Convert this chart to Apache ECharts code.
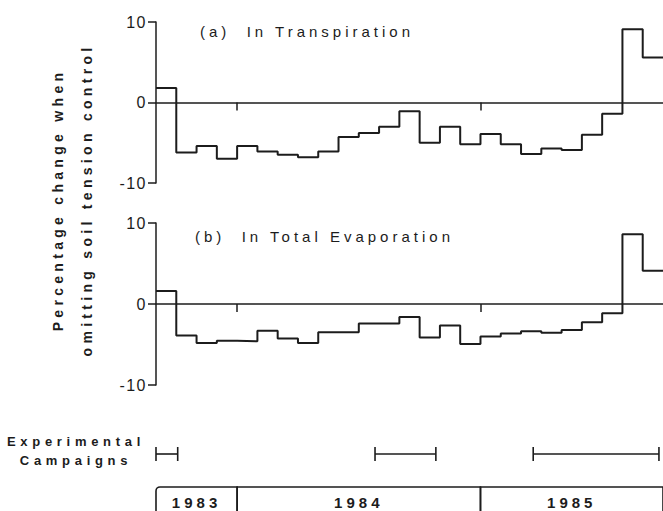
<!DOCTYPE html>
<html>
<head>
<meta charset="utf-8">
<title>Percentage change when omitting soil tension control</title>
<script src="https://cdn.jsdelivr.net/npm/echarts@6/dist/echarts.min.js"></script>
<style>
    html, body { margin: 0; padding: 0; background: #fff; }
    #chart { width: 663px; height: 511px; }
    /* the scanned figure uses wide letter spacing, svg text takes it from css */
    #chart text { white-space: pre; }
    #chart text[style*="16px"] { letter-spacing: 1.5px; }
    #chart text[style*="15px"] { letter-spacing: 4px; }
    #chart text[style*="14px"] { letter-spacing: 4.3px; }
    #chart text[style*="13px"] { letter-spacing: 4.7px; }
</style>
</head>
<body>
<div id="chart"></div>
<script>
// monthly values, Sep 1983 .. Sep 1985 (one step per month)
var transpiration = [1.8, -6.2, -5.4, -7.0, -5.4, -6.1, -6.5, -6.8, -6.1, -4.3, -3.8, -3.0,
    -1.1, -5.0, -3.0, -5.2, -3.9, -5.2, -6.4, -5.7, -5.9, -4.0, -1.4, 9.1, 5.6];
var evaporation = [1.6, -3.9, -4.8, -4.55, -4.6, -3.3, -4.25, -4.8, -3.5, -3.5, -2.4, -2.4,
    -1.6, -4.15, -2.65, -4.95, -4.0, -3.65, -3.35, -3.55, -3.2, -2.25, -1.15, 8.6, 4.1];

// experimental campaigns, in months from Sep 1983
var campaignStart = [0, 10.8, 18.6];
var campaignEnd = [1.07, 13.8, 24.8];

// calendar years along the bottom
var yearLabels = ['1983', '1984', '1985'];
var yearStart = [0, 4, 16];
var yearEnd = [4, 16, 25];
var yearTicks = [4, 16];

var panelTitles = ['(a)  In Transpiration', '(b)  In Total Evaporation'];

var ink = '#1c1c1c';
var font = 'Liberation Sans';
var monthCount = transpiration.length;

function stepData(values) {
    var pts = values.map(function (v, i) { return [i, v]; });
    pts.push([values.length, values[values.length - 1]]);
    return pts;
}

function panelY(idx) {
    return {
        type: 'value',
        gridIndex: idx,
        min: -10,
        max: 10,
        interval: 10,
        splitLine: {show: false},
        axisLine: {show: true, lineStyle: {color: ink, width: 1.5}},
        axisTick: {show: true, length: 8, lineStyle: {color: ink, width: 1.5}},
        axisLabel: {
            color: ink,
            fontSize: 16,
            fontFamily: font,
            margin: 9
        }
    };
}

function panelX(idx) {
    return {
        type: 'value',
        gridIndex: idx,
        min: 0,
        max: monthCount,
        splitLine: {show: false},
        axisLine: {show: true, onZero: true, lineStyle: {color: ink, width: 1.5}},
        axisTick: {show: true, customValues: yearTicks, length: 8, lineStyle: {color: ink, width: 1.5}},
        axisLabel: {show: false}
    };
}

function hiddenX(idx) {
    return {type: 'value', gridIndex: idx, min: 0, max: monthCount, show: false};
}

function hiddenY(idx) {
    return {type: 'value', gridIndex: idx, min: 0, max: 1, show: false};
}

function renderCampaign(params, api) {
    var a = api.coord([api.value(0), 0]);
    var b = api.coord([api.value(1), 0]);
    var cs = params.coordSys;
    var mid = cs.y + cs.height / 2;
    var st = {stroke: ink, lineWidth: 1.6};
    return {
        type: 'group',
        children: [
            {type: 'line', shape: {x1: a[0], y1: mid, x2: b[0], y2: mid}, style: st},
            {type: 'line', shape: {x1: a[0], y1: cs.y, x2: a[0], y2: cs.y + cs.height}, style: st},
            {type: 'line', shape: {x1: b[0], y1: cs.y, x2: b[0], y2: cs.y + cs.height}, style: st}
        ]
    };
}

function renderYear(params, api) {
    var a = api.coord([api.value(0), 0]);
    var b = api.coord([api.value(1), 0]);
    var cs = params.coordSys;
    return {
        type: 'group',
        children: [
            {
                type: 'rect',
                shape: {x: a[0], y: cs.y, width: b[0] - a[0], height: cs.height + 20, r: params.dataIndex === 0 ? [4, 0, 0, 0] : 0},
                style: {fill: 'none', stroke: ink, lineWidth: 1.6}
            },
            {
                type: 'text',
                style: {
                    text: yearLabels[params.dataIndex],
                    x: (a[0] + b[0]) / 2,
                    y: cs.y + 15,
                    textAlign: 'center',
                    textVerticalAlign: 'middle',
                    fill: ink,
                    fontSize: 15,
                    fontWeight: 'bold',
                    fontFamily: font
                }
            }
        ]
    };
}

var chart = echarts.init(document.getElementById('chart'), null, {renderer: 'svg'});

chart.setOption({
    backgroundColor: '#fff',
    animation: false,
    title: [
        {text: panelTitles[0], left: 200, top: 24, padding: 0,
            textStyle: {color: ink, fontSize: 15, fontWeight: 'normal', fontFamily: font}},
        {text: panelTitles[1], left: 195, top: 229, padding: 0,
            textStyle: {color: ink, fontSize: 15, fontWeight: 'normal', fontFamily: font}}
    ],
    grid: [
        {left: 156, top: 22, width: 507, height: 161},
        {left: 156, top: 223, width: 507, height: 162},
        {left: 156, top: 447, width: 507, height: 14},
        {left: 156, top: 487, width: 507, height: 40}
    ],
    xAxis: [panelX(0), panelX(1), hiddenX(2), hiddenX(3)],
    yAxis: [panelY(0), panelY(1), hiddenY(2), hiddenY(3)],
    graphic: [
        {
            type: 'text', x: 58, y: 200, rotation: Math.PI / 2,
            style: {text: 'Percentage change when', textAlign: 'center', textVerticalAlign: 'middle',
                fill: ink, fontSize: 14, fontWeight: 'bold', fontFamily: font}
        },
        {
            type: 'text', x: 87, y: 200, rotation: Math.PI / 2,
            style: {text: 'omitting soil tension control', textAlign: 'center', textVerticalAlign: 'middle',
                fill: ink, fontSize: 14, fontWeight: 'bold', fontFamily: font}
        },
        {
            type: 'text', x: 76, y: 451,
            style: {text: 'Experimental\nCampaigns', textAlign: 'center', textVerticalAlign: 'middle',
                lineHeight: 19, fill: ink, fontSize: 13, fontWeight: 'bold', fontFamily: font}
        }
    ],
    series: [
        {
            type: 'line', xAxisIndex: 0, yAxisIndex: 0, step: 'end', symbol: 'none',
            lineStyle: {color: ink, width: 2}, data: stepData(transpiration)
        },
        {
            type: 'line', xAxisIndex: 1, yAxisIndex: 1, step: 'end', symbol: 'none',
            lineStyle: {color: ink, width: 2}, data: stepData(evaporation)
        },
        {
            type: 'custom', xAxisIndex: 2, yAxisIndex: 2, renderItem: renderCampaign,
            data: campaignStart.map(function (s, i) { return [s, campaignEnd[i]]; })
        },
        {
            type: 'custom', xAxisIndex: 3, yAxisIndex: 3, renderItem: renderYear, clip: false,
            data: yearStart.map(function (s, i) { return [s, yearEnd[i]]; })
        }
    ]
});
</script>
</body>
</html>
